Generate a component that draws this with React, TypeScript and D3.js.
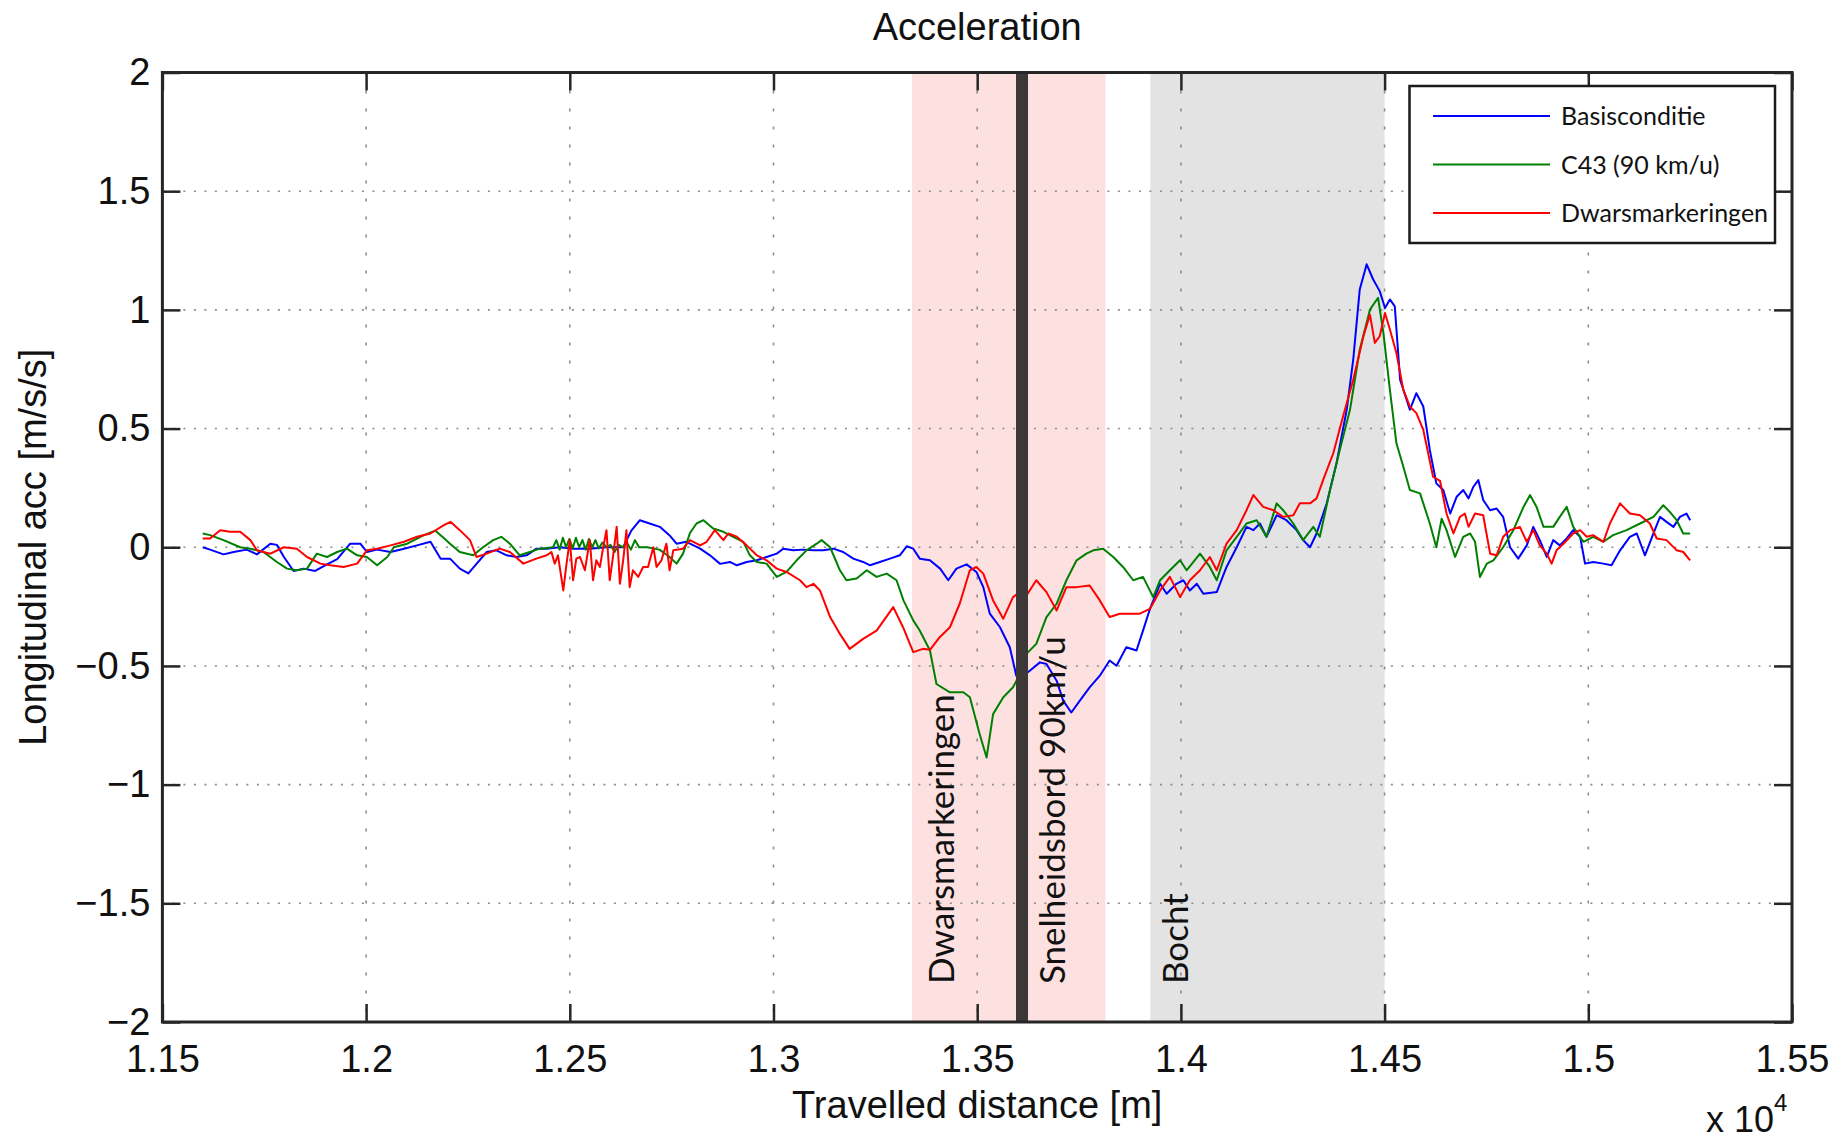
import React, { useEffect, useRef } from 'react'
import * as d3 from 'd3'

// travelled distance [m], longitudinal acc [m/s/s]
const basisconditie: [number, number][] = [
  [11599, 0.0], [11617, -0.01], [11650, -0.03], [11675, -0.02], [11707, -0.01], [11732, -0.03],
  [11765, 0.015], [11781, 0.01], [11798, -0.04], [11822, -0.1], [11847, -0.09], [11875, -0.1],
  [11896, -0.08], [11929, -0.05], [11961, 0.015], [11986, 0.015], [12002, -0.02], [12027, -0.01],
  [12060, -0.02], [12093, -0.006], [12125, 0.008], [12158, 0.023], [12183, -0.048], [12206, -0.048],
  [12230, -0.09], [12251, -0.11], [12271, -0.07], [12296, -0.02], [12320, -0.013], [12345, -0.034],
  [12369, -0.041], [12394, -0.034], [12418, -0.006], [12443, -0.006], [12475, 0.0], [12508, -0.006],
  [12549, -0.006], [12590, 0.0], [12631, 0.0], [12651, 0.07], [12672, 0.114], [12696, 0.1],
  [12721, 0.086], [12745, 0.05], [12762, 0.015], [12786, 0.023], [12795, 0.015], [12820, -0.006],
  [12844, -0.034], [12869, -0.07], [12893, -0.062], [12910, -0.076], [12934, -0.062], [12959, -0.055],
  [12983, -0.041], [13008, -0.027], [13024, -0.006], [13049, -0.013], [13073, -0.01], [13098, -0.013],
  [13122, -0.013], [13147, -0.006], [13171, -0.02], [13196, -0.048], [13220, -0.062], [13237, -0.076],
  [13261, -0.062], [13286, -0.048], [13310, -0.034], [13327, 0.004], [13343, -0.006], [13359, -0.048],
  [13384, -0.055], [13409, -0.09], [13429, -0.139], [13449, -0.09], [13474, -0.072], [13498, -0.104],
  [13515, -0.168], [13531, -0.28], [13556, -0.337], [13580, -0.421], [13596, -0.541], [13613, -0.541],
  [13629, -0.52], [13654, -0.485], [13670, -0.492], [13695, -0.562], [13711, -0.646], [13731, -0.696],
  [13752, -0.646], [13776, -0.59], [13801, -0.541], [13825, -0.477], [13842, -0.499], [13866, -0.421],
  [13891, -0.435], [13907, -0.351], [13924, -0.26], [13949, -0.154], [13965, -0.196], [13989, -0.154],
  [14006, -0.139], [14022, -0.182], [14039, -0.154], [14055, -0.196], [14088, -0.189], [14112, -0.083],
  [14137, 0.0], [14161, 0.086], [14178, 0.072], [14194, 0.1], [14210, 0.044], [14235, 0.135],
  [14259, 0.114], [14284, 0.072], [14300, 0.03], [14317, 0.0], [14333, 0.058], [14358, 0.185],
  [14382, 0.354], [14407, 0.579], [14423, 0.79], [14439, 1.086], [14456, 1.192], [14472, 1.128],
  [14488, 1.079], [14501, 1.008], [14513, 1.044], [14525, 1.015], [14538, 0.706], [14562, 0.579],
  [14578, 0.649], [14595, 0.593], [14611, 0.41], [14627, 0.269], [14644, 0.241], [14661, 0.142],
  [14677, 0.213], [14693, 0.241], [14706, 0.206], [14718, 0.255], [14730, 0.283], [14742, 0.199],
  [14759, 0.156], [14775, 0.163], [14791, 0.128], [14808, 0.0], [14828, -0.048], [14849, 0.008],
  [14865, 0.086], [14881, 0.03], [14898, -0.041], [14914, 0.03], [14930, 0.008], [14947, 0.037],
  [14963, 0.072], [14980, 0.044], [14992, -0.069], [15012, -0.062], [15037, -0.069], [15057, -0.076],
  [15078, -0.013], [15102, 0.044], [15119, 0.058], [15139, -0.034], [15160, 0.058], [15176, 0.128],
  [15192, 0.107], [15209, 0.086], [15225, 0.128], [15241, 0.142], [15250, 0.114],
]

const c43: [number, number][] = [
  [11599, 0.058], [11617, 0.051], [11650, 0.03], [11691, 0.0], [11716, -0.006], [11748, -0.02],
  [11781, -0.062], [11806, -0.09], [11830, -0.097], [11855, -0.09], [11879, -0.027], [11904, -0.041],
  [11929, -0.02], [11953, -0.006], [11978, -0.034], [12002, -0.041], [12027, -0.076], [12052, -0.041],
  [12068, 0.0], [12101, 0.015], [12142, 0.051], [12170, 0.07], [12190, 0.04], [12206, 0.015],
  [12230, -0.02], [12263, -0.034], [12287, 0.0], [12312, 0.03], [12332, 0.044], [12353, 0.015],
  [12377, -0.034], [12402, -0.02], [12426, -0.006], [12459, 0.0], [12467, 0.03], [12475, -0.01],
  [12483, 0.04], [12491, 0.0], [12499, 0.035], [12507, -0.005], [12515, 0.04], [12523, 0.0],
  [12531, 0.03], [12539, -0.01], [12547, 0.035], [12555, 0.0], [12563, 0.03], [12571, -0.005],
  [12580, 0.02], [12590, 0.0], [12600, 0.01], [12610, -0.02], [12620, 0.01], [12630, 0.0],
  [12640, 0.02], [12650, -0.01], [12660, 0.03], [12670, 0.0], [12690, 0.0], [12720, -0.01],
  [12745, -0.041], [12762, -0.069], [12778, -0.027], [12795, 0.06], [12811, 0.1], [12828, 0.114],
  [12852, 0.079], [12877, 0.065], [12901, 0.044], [12926, 0.023], [12942, -0.034], [12959, -0.062],
  [12983, -0.069], [13008, -0.125], [13032, -0.104], [13057, -0.055], [13081, -0.013], [13106, 0.015],
  [13118, 0.03], [13139, 0.0], [13163, -0.097], [13179, -0.139], [13204, -0.132], [13229, -0.097],
  [13253, -0.125], [13278, -0.111], [13302, -0.139], [13319, -0.224], [13343, -0.308], [13359, -0.351],
  [13384, -0.435], [13400, -0.576], [13433, -0.611], [13466, -0.611], [13482, -0.632], [13506, -0.787],
  [13523, -0.886], [13539, -0.703], [13564, -0.632], [13588, -0.59], [13605, -0.534], [13621, -0.449],
  [13645, -0.407], [13670, -0.294], [13695, -0.238], [13719, -0.139], [13744, -0.055], [13768, -0.027],
  [13785, -0.013], [13809, -0.006], [13834, -0.041], [13858, -0.083], [13883, -0.139], [13907, -0.125],
  [13932, -0.21], [13949, -0.139], [13973, -0.097], [13998, -0.055], [14014, -0.097], [14047, -0.027],
  [14071, -0.083], [14088, -0.139], [14112, -0.013], [14137, 0.044], [14161, 0.1], [14186, 0.114],
  [14210, 0.044], [14235, 0.185], [14251, 0.156], [14276, 0.1], [14300, 0.03], [14325, 0.086],
  [14341, 0.044], [14366, 0.241], [14390, 0.41], [14415, 0.579], [14439, 0.832], [14464, 1.001],
  [14484, 1.051], [14497, 0.903], [14513, 0.663], [14529, 0.438], [14546, 0.339], [14562, 0.241],
  [14587, 0.227], [14611, 0.1], [14627, 0.0], [14640, 0.12], [14652, 0.072], [14673, -0.041],
  [14693, 0.044], [14710, 0.058], [14722, 0.023], [14734, -0.125], [14751, -0.069], [14767, -0.055],
  [14791, 0.0], [14816, 0.072], [14841, 0.17], [14857, 0.22], [14873, 0.17], [14890, 0.086],
  [14914, 0.086], [14930, 0.128], [14947, 0.17], [14963, 0.086], [14988, 0.023], [15012, 0.044],
  [15037, 0.023], [15061, 0.051], [15094, 0.072], [15127, 0.1], [15160, 0.128], [15184, 0.177],
  [15200, 0.149], [15217, 0.114], [15233, 0.058], [15250, 0.058],
]

const dwarsmarkeringen: [number, number][] = [
  [11599, 0.037], [11617, 0.037], [11642, 0.072], [11666, 0.065], [11691, 0.065], [11716, 0.03],
  [11732, -0.013], [11765, -0.027], [11798, 0.0], [11830, -0.006], [11855, -0.041], [11888, -0.069],
  [11912, -0.076], [11945, -0.083], [11978, -0.069], [12002, -0.013], [12027, -0.006], [12060, 0.008],
  [12093, 0.023], [12125, 0.044], [12158, 0.058], [12191, 0.093], [12207, 0.107], [12230, 0.072],
  [12255, 0.03], [12271, -0.041], [12296, -0.027], [12328, -0.006], [12353, -0.02], [12386, -0.069],
  [12418, -0.048], [12443, -0.034], [12455, -0.02], [12463, -0.069], [12471, -0.034], [12484, -0.182],
  [12492, -0.069], [12500, 0.03], [12508, -0.139], [12516, -0.048], [12525, -0.041], [12537, -0.097],
  [12549, 0.03], [12557, -0.139], [12565, -0.055], [12574, -0.083], [12582, 0.0], [12590, 0.072],
  [12598, -0.139], [12606, -0.041], [12615, 0.086], [12623, -0.154], [12631, -0.055], [12639, 0.072],
  [12647, -0.168], [12655, -0.097], [12668, -0.125], [12680, -0.083], [12692, -0.083], [12705, 0.0],
  [12713, -0.083], [12725, -0.055], [12737, 0.015], [12745, -0.097], [12754, -0.013], [12778, -0.006],
  [12795, 0.03], [12820, 0.008], [12836, 0.023], [12856, 0.072], [12877, 0.03], [12889, 0.058],
  [12910, 0.044], [12934, 0.008], [12959, -0.034], [12983, -0.055], [13008, -0.09], [13032, -0.104],
  [13065, -0.139], [13081, -0.168], [13098, -0.154], [13114, -0.182], [13139, -0.294], [13163, -0.365],
  [13187, -0.428], [13220, -0.386], [13253, -0.351], [13294, -0.252], [13318, -0.337], [13343, -0.442],
  [13367, -0.428], [13384, -0.432], [13408, -0.379], [13433, -0.337], [13457, -0.238], [13482, -0.097],
  [13498, -0.083], [13515, -0.111], [13539, -0.224], [13564, -0.301], [13588, -0.21], [13605, -0.189],
  [13621, -0.203], [13645, -0.139], [13670, -0.189], [13695, -0.266], [13719, -0.168], [13744, -0.168],
  [13776, -0.161], [13801, -0.224], [13825, -0.294], [13850, -0.28], [13875, -0.28], [13899, -0.28],
  [13924, -0.26], [13949, -0.182], [13973, -0.125], [13998, -0.21], [14022, -0.139], [14047, -0.097],
  [14071, -0.041], [14088, -0.097], [14112, 0.015], [14137, 0.072], [14161, 0.156], [14178, 0.22],
  [14202, 0.17], [14227, 0.156], [14251, 0.128], [14276, 0.135], [14292, 0.185], [14317, 0.185],
  [14333, 0.206], [14349, 0.283], [14374, 0.396], [14398, 0.551], [14423, 0.706], [14448, 0.889],
  [14464, 0.98], [14476, 0.861], [14488, 0.889], [14501, 0.987], [14513, 0.917], [14529, 0.818],
  [14546, 0.663], [14562, 0.593], [14578, 0.565], [14595, 0.494], [14619, 0.297], [14636, 0.28],
  [14652, 0.142], [14669, 0.058], [14685, 0.128], [14697, 0.142], [14706, 0.086], [14722, 0.142],
  [14742, 0.135], [14759, -0.027], [14775, -0.034], [14791, 0.044], [14808, 0.072], [14832, 0.086],
  [14849, 0.023], [14865, 0.072], [14881, 0.008], [14898, -0.027], [14910, -0.069], [14922, -0.013],
  [14939, 0.015], [14963, 0.058], [14980, 0.072], [14996, 0.044], [15012, 0.051], [15037, 0.023],
  [15053, 0.1], [15078, 0.185], [15102, 0.142], [15127, 0.135], [15151, 0.1], [15168, 0.037],
  [15192, 0.03], [15217, -0.013], [15233, -0.02], [15250, -0.055],
]

const seriesLabels = ['Basisconditie', 'C43 (90 km/u)', 'Dwarsmarkeringen']
const xTicks = [11500, 12000, 12500, 13000, 13500, 14000, 14500, 15000, 15500]
const yTicks = [-2, -1.5, -1, -0.5, 0, 0.5, 1, 1.5, 2]

// shaded stretches along the road and the sign position [m]
const dwarsZone = [13340, 13815]
const bochtZone = [13925, 14500]
const signPosition = 13610
const annotationLabels = ['Dwarsmarkeringen', 'Snelheidsbord 90km/u', 'Bocht']
const annotationAt = [13340, 13610, 13925]

const COLORS = ['#0000ff', '#008000', '#ff0000']
const AXIS_FONT = '"Liberation Sans", Arial, sans-serif'
const NOTE_FONT = 'Lato, "Open Sans", sans-serif'

export default function App() {
  const svgRef = useRef<SVGSVGElement>(null)

  useEffect(() => {
    const width = 1845
    const height = 1143
    const margin = { top: 72.5, right: 53, bottom: 121, left: 162.4 }
    const x0 = margin.left
    const x1 = width - margin.right
    const y0 = margin.top
    const y1 = height - margin.bottom

    const svg = d3.select(svgRef.current)
    svg.selectAll('*').remove()
    svg.attr('viewBox', `0 0 ${width} ${height}`)

    svg.append('rect').attr('width', width).attr('height', height).attr('fill', '#fff')

    const x = d3.scaleLinear().domain([11500, 15500]).range([x0, x1])
    const y = d3.scaleLinear().domain([-2, 2]).range([y1, y0])

    // shaded zones
    svg.append('rect')
      .attr('x', x(dwarsZone[0])).attr('y', y0)
      .attr('width', x(dwarsZone[1]) - x(dwarsZone[0])).attr('height', y1 - y0)
      .attr('fill', '#fde0e0')
    svg.append('rect')
      .attr('x', x(bochtZone[0])).attr('y', y0)
      .attr('width', x(bochtZone[1]) - x(bochtZone[0])).attr('height', y1 - y0)
      .attr('fill', '#e3e3e3')

    // dotted grid
    const grid = svg.append('g').attr('stroke', '#8c8c8c').attr('stroke-width', 1.6)
    grid.selectAll('.gx')
      .data(xTicks.slice(1, -1))
      .join('line')
      .attr('x1', (d) => x(d)).attr('x2', (d) => x(d))
      .attr('y1', y0).attr('y2', y1)
      .attr('stroke-dasharray', '3,15')
    grid.selectAll('.gy')
      .data(yTicks.slice(1, -1))
      .join('line')
      .attr('x1', x0).attr('x2', x1)
      .attr('y1', (d) => y(d)).attr('y2', (d) => y(d))
      .attr('stroke-dasharray', '2,8.5')

    // series
    const line = d3.line<[number, number]>()
      .x((d) => x(d[0]))
      .y((d) => y(d[1]))
    const allSeries = [basisconditie, c43, dwarsmarkeringen]
    svg.append('g')
      .selectAll('path')
      .data(allSeries)
      .join('path')
      .attr('d', (d) => line(d))
      .attr('fill', 'none')
      .attr('stroke', (_, i) => COLORS[i])
      .attr('stroke-width', 2)
      .attr('stroke-linejoin', 'round')

    // speed sign marker
    svg.append('rect')
      .attr('x', x(signPosition) - 6).attr('y', y0)
      .attr('width', 12).attr('height', y1 - y0)
      .attr('fill', '#3d3838')

    // vertical annotations
    const noteOffsets = [42, 43, 38]
    annotationLabels.forEach((label, i) => {
      const tx = x(annotationAt[i]) + noteOffsets[i]
      const ty = y(-1.84)
      svg.append('text')
        .attr('transform', `translate(${tx},${ty}) rotate(-90)`)
        .attr('font-family', NOTE_FONT)
        .attr('font-size', 35)
        .attr('fill', '#111')
        .text(label)
    })

    // axes: inward ticks on all four sides
    const tickLen = 18
    const styleAxis = (g: any) => {
      g.select('.domain').remove()
      g.selectAll('line').attr('stroke', '#262626').attr('stroke-width', 2.5)
      g.selectAll('text')
        .attr('font-family', AXIS_FONT)
        .attr('font-size', 38)
        .attr('fill', '#111')
    }
    svg.append('g')
      .attr('transform', `translate(0,${y1})`)
      .call(d3.axisBottom(x).tickValues(xTicks).tickSizeInner(-tickLen).tickSizeOuter(0).tickPadding(23)
        .tickFormat((d) => String(+d / 10000)))
      .call(styleAxis)
    svg.append('g')
      .attr('transform', `translate(0,${y0})`)
      .call(d3.axisTop(x).tickValues(xTicks).tickSizeInner(-tickLen).tickSizeOuter(0).tickFormat(() => ''))
      .call(styleAxis)
    svg.append('g')
      .attr('transform', `translate(${x0},0)`)
      .call(d3.axisLeft(y).tickValues(yTicks).tickSizeInner(-tickLen).tickSizeOuter(0).tickPadding(12)
        .tickFormat((d) => String(d).replace('-', '\u2212')))
      .call(styleAxis)
    svg.append('g')
      .attr('transform', `translate(${x1},0)`)
      .call(d3.axisRight(y).tickValues(yTicks).tickSizeInner(-tickLen).tickSizeOuter(0).tickFormat(() => ''))
      .call(styleAxis)

    svg.append('rect')
      .attr('x', x0).attr('y', y0)
      .attr('width', x1 - x0).attr('height', y1 - y0)
      .attr('fill', 'none')
      .attr('stroke', '#262626')
      .attr('stroke-width', 3)

    // titles
    svg.append('text')
      .attr('x', (x0 + x1) / 2).attr('y', 40)
      .attr('text-anchor', 'middle')
      .attr('font-family', AXIS_FONT).attr('font-size', 38).attr('fill', '#111')
      .text('Acceleration')
    svg.append('text')
      .attr('x', (x0 + x1) / 2).attr('y', 1118)
      .attr('text-anchor', 'middle')
      .attr('font-family', AXIS_FONT).attr('font-size', 38).attr('fill', '#111')
      .text('Travelled distance [m]')
    svg.append('text')
      .attr('transform', `translate(46,${(y0 + y1) / 2}) rotate(-90)`)
      .attr('text-anchor', 'middle')
      .attr('font-family', AXIS_FONT).attr('font-size', 38).attr('fill', '#111')
      .text('Longitudinal acc [m/s/s]')
    const exp = svg.append('text')
      .attr('x', 1706).attr('y', 1132)
      .attr('font-family', AXIS_FONT).attr('font-size', 36).attr('fill', '#111')
    exp.append('tspan').text('x 10')
    exp.append('tspan').attr('dy', -21).attr('font-size', 24).text('4')

    // legend
    const lg = svg.append('g')
    lg.append('rect')
      .attr('x', 1409.5).attr('y', 86)
      .attr('width', 365.5).attr('height', 157)
      .attr('fill', '#fff')
      .attr('stroke', '#1a1a1a')
      .attr('stroke-width', 2.5)
    seriesLabels.forEach((label, i) => {
      const ry = 116 + i * 48.5
      lg.append('line')
        .attr('x1', 1433).attr('x2', 1550)
        .attr('y1', ry).attr('y2', ry)
        .attr('stroke', COLORS[i]).attr('stroke-width', 2)
      lg.append('text')
        .attr('x', 1561).attr('y', ry + 9)
        .attr('font-family', NOTE_FONT).attr('font-size', 25).attr('fill', '#111')
        .text(label)
    })
  }, [])

  return (
    <svg
      ref={svgRef}
      width={1845}
      height={1143}
      style={{ position: 'absolute', left: 0, top: 0, display: 'block' }}
      role="img"
      aria-label="Acceleration"
    />
  )
}
